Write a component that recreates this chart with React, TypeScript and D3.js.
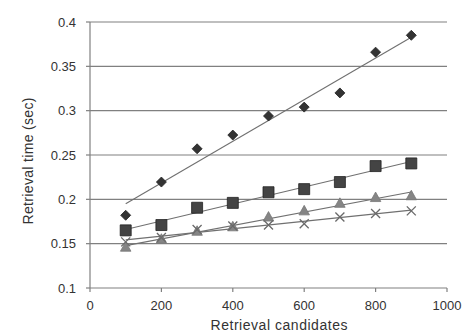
import React from 'react'
import * as d3 from 'd3'

// retrieval candidates (x)
const candidates = [100, 200, 300, 400, 500, 600, 700, 800, 900]

// retrieval time (sec) per series
const diamondTimes = [0.182, 0.2195, 0.257, 0.2725, 0.294, 0.304, 0.32, 0.366, 0.385]
const squareTimes = [0.165, 0.171, 0.1905, 0.196, 0.208, 0.2115, 0.2195, 0.2375, 0.2405]
const triangleTimes = [0.146, 0.155, 0.164, 0.169, 0.18, 0.187, 0.1955, 0.202, 0.204]
const crossTimes = [0.152, 0.157, 0.166, 0.17, 0.171, 0.1725, 0.18, 0.184, 0.187]

const xTicks = [0, 200, 400, 600, 800, 1000]
const yTicks = [0.1, 0.15, 0.2, 0.25, 0.3, 0.35, 0.4]

const W = 462
const H = 334

// least squares line, like excel's linear trendline
const fitLine = (xs: number[], ys: number[]) => {
  const mx = d3.mean(xs) as number
  const my = d3.mean(ys) as number
  let num = 0
  let den = 0
  xs.forEach((x, i) => {
    num += (x - mx) * (ys[i] - my)
    den += (x - mx) * (x - mx)
  })
  const slope = num / den
  return (x: number) => my + slope * (x - mx)
}

const markers: Record<string, (s: number) => string> = {
  diamond: (s) => `M0,${-s}L${s},0L0,${s}L${-s},0Z`,
  square: (s) => `M${-s},${-s}H${s}V${s}H${-s}Z`,
  triangle: (s) => `M0,${-s * 1.1}L${s * 1.05},${s * 0.8}H${-s * 1.05}Z`,
  cross: (s) => `M${-s},${-s}L${s},${s}M${s},${-s}L${-s},${s}`,
}

const series = [
  { name: 'diamond', values: diamondTimes, fill: '#333', stroke: '#222', size: 5 },
  { name: 'square', values: squareTimes, fill: '#444', stroke: '#222', size: 5.5 },
  { name: 'triangle', values: triangleTimes, fill: '#858585', stroke: '#777', size: 5 },
  { name: 'cross', values: crossTimes, fill: 'none', stroke: '#6a6a6a', size: 4.5 },
]

const App = () => {
  const x = d3.scaleLinear().domain([0, 1000]).range([90, 447])
  const y = d3.scaleLinear().domain([0.1, 0.4]).range([288, 22])

  const font = 'Liberation Sans, Arial, sans-serif'
  const lineGen = d3
    .line<number>()
    .x((d) => x(d))

  return (
    <svg
      width={W}
      height={H}
      style={{ position: 'absolute', left: 0, top: 0, background: '#fff' }}
    >
      {/* gridlines */}
      {yTicks.slice(1).map((t) => (
        <line key={t} x1={x(0)} x2={x(1000)} y1={y(t)} y2={y(t)} stroke='#808080' strokeWidth={1.2} />
      ))}

      {/* axes */}
      <line x1={x(0)} x2={x(0)} y1={y(0.4)} y2={y(0.1)} stroke='#808080' strokeWidth={1.2} />
      <line x1={x(0)} x2={x(1000)} y1={y(0.1)} y2={y(0.1)} stroke='#808080' strokeWidth={1.2} />
      {yTicks.map((t) => (
        <g key={t}>
          <line x1={x(0) - 4} x2={x(0)} y1={y(t)} y2={y(t)} stroke='#808080' strokeWidth={1.2} />
          <text
            x={76}
            y={y(t)}
            dy='0.35em'
            textAnchor='end'
            fontFamily={font}
            fontSize={13}
            fill='#333'
          >
            {t}
          </text>
        </g>
      ))}
      {xTicks.map((t) => (
        <g key={t}>
          <line x1={x(t)} x2={x(t)} y1={y(0.1)} y2={y(0.1) + 4} stroke='#808080' strokeWidth={1.2} />
          <text
            x={x(t)}
            y={310}
            textAnchor='middle'
            fontFamily={font}
            fontSize={13}
            fill='#333'
          >
            {t}
          </text>
        </g>
      ))}

      {/* axis titles */}
      <text
        x={279}
        y={330}
        textAnchor='middle'
        fontFamily={font}
        fontSize={14}
        fill='#333'
        textLength={137}
        lengthAdjust='spacing'
      >
        Retrieval candidates
      </text>
      <text
        transform='translate(33,161) rotate(-90)'
        textAnchor='middle'
        fontFamily={font}
        fontSize={14}
        fill='#333'
        textLength={127}
        lengthAdjust='spacing'
      >
        Retrieval time (sec)
      </text>

      {/* trendlines */}
      {series.map((s) => {
        const f = fitLine(candidates, s.values)
        const xs = [candidates[0], candidates[candidates.length - 1]]
        return (
          <path
            key={s.name + '-trend'}
            d={lineGen.y((d) => y(f(d)))(xs) as string}
            fill='none'
            stroke='#707070'
            strokeWidth={1.1}
          />
        )
      })}

      {/* markers */}
      {series.map((s) => (
        <g key={s.name}>
          {s.values.map((v, i) => (
            <path
              key={i}
              transform={`translate(${x(candidates[i])},${y(v)})`}
              d={markers[s.name](s.size)}
              fill={s.fill}
              stroke={s.stroke}
              strokeWidth={s.name === 'cross' ? 1.3 : 0.8}
            />
          ))}
        </g>
      ))}
    </svg>
  )
}

export default App
